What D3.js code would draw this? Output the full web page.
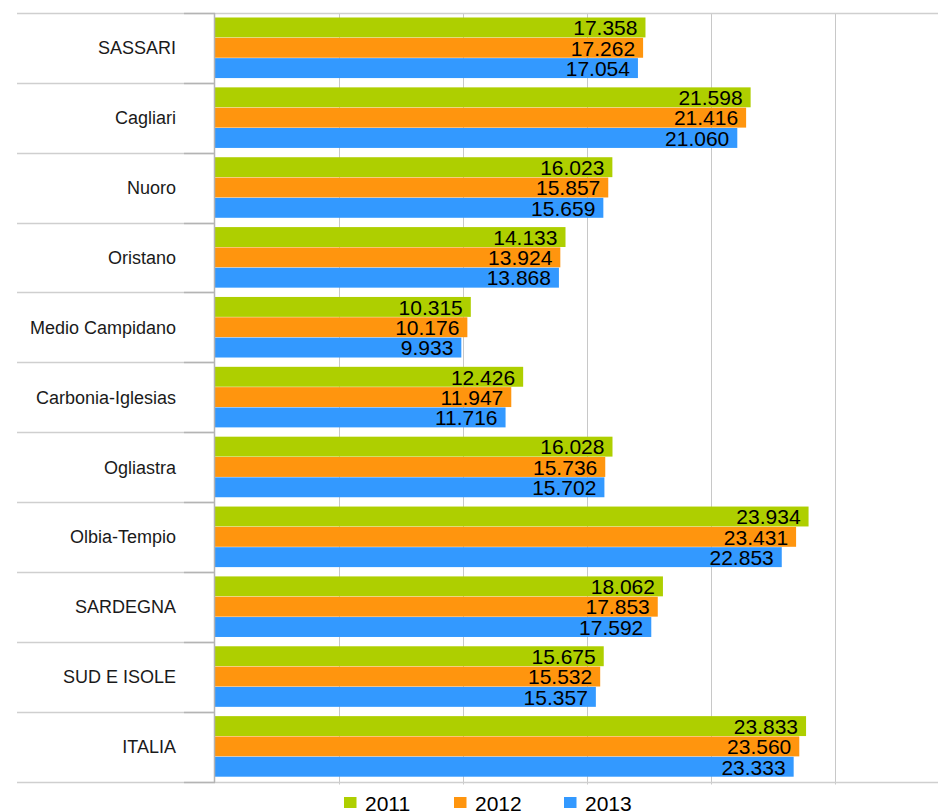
<!doctype html>
<html>
  <head>
    <meta charset="utf-8">
    <script src="https://cdn.jsdelivr.net/npm/d3@7"></script>
    <style>
    body {
      margin: 0;
      background: #fff;
    }

    .chart {
      font-family: 'Liberation Sans', Arial, sans-serif;
      display: block;
    }

    .cat-label {
      font-size: 18px;
      fill: #1a1a1a;
    }

    .bar-label {
      font-size: 21px;
      fill: #000;
    }

    .legend-label {
      font-size: 21px;
      fill: #000;
    }
    </style>
  </head>

  <body>

    <svg class="chart"></svg>

  <script>

    const categories = ["SASSARI", "Cagliari", "Nuoro", "Oristano", "Medio Campidano", "Carbonia-Iglesias",
                        "Ogliastra", "Olbia-Tempio", "SARDEGNA", "SUD E ISOLE", "ITALIA"]

    const years = ["2011", "2012", "2013"]

    const values2011 = [17358, 21598, 16023, 14133, 10315, 12426, 16028, 23934, 18062, 15675, 23833]
    const values2012 = [17262, 21416, 15857, 13924, 10176, 11947, 15736, 23431, 17853, 15532, 23560]
    const values2013 = [17054, 21060, 15659, 13868,  9933, 11716, 15702, 22853, 17592, 15357, 23333]

    const gridTicks = [5000, 10000, 15000, 20000, 25000, 30000]

    const colors = ["#aecf00", "#ff950e", "#3399ff"]

    const W = 938, H = 811
    const margin = { left: 215, top: 13, right: 0, bottom: 30 }
    const plotBottom = H - margin.bottom + 0.5   // ~781

    const series = [values2011, values2012, values2013]

    // rows built from the named arrays
    const rows = categories.map((c, i) => ({
      cat: c,
      vals: years.map((y, j) => ({ year: y, value: series[j][i] }))
    }))

    const it = d3.formatLocale({ decimal: ",", thousands: ".", grouping: [3], currency: ["€", ""] })
    const fmt = it.format(",d")

    const xScale = d3.scaleLinear()
                     .domain([0, 30000])
                     .range([margin.left, margin.left + 744])

    const yScale = d3.scaleBand()
                     .domain(categories)
                     .range([margin.top, plotBottom])
                     .padding(0)

    const inner = d3.scaleBand()
                    .domain(years)
                    .range([4.5, yScale.bandwidth() - 4.8])
                    .paddingInner(0.02)

    const cScale = d3.scaleOrdinal()
                     .domain(years)
                     .range(colors)

    let chart = d3.select(".chart")
                  .attr("width", W)
                  .attr("height", H)

    // vertical grid lines
    chart.append("g")
      .attr("class", "grid")
      .selectAll("line")
      .data(gridTicks)
      .enter().append("line")
        .attr("x1", d => Math.round(xScale(d)) + 0.5)
        .attr("x2", d => Math.round(xScale(d)) + 0.5)
        .attr("y1", margin.top)
        .attr("y2", plotBottom + 3)
        .attr("stroke", "#c8c8c8")
        .attr("stroke-width", 1)

    // category separators (top border runs across the whole width)
    const seps = categories.map(c => yScale(c)).concat([plotBottom])

    chart.append("g")
      .selectAll("line")
      .data(seps)
      .enter().append("line")
        .attr("x1", 17)
        .attr("x2", (d, i) => i === 0 ? W : margin.left)
        .attr("y1", d => Math.round(d) + 0.5)
        .attr("y2", d => Math.round(d) + 0.5)
        .attr("stroke", "#cfcfcf")
        .attr("stroke-width", 1.5)

    // y-axis ticks (darker stubs)
    chart.append("g")
      .selectAll("line")
      .data(seps)
      .enter().append("line")
        .attr("x1", 184)
        .attr("x2", margin.left)
        .attr("y1", d => Math.round(d) + 0.5)
        .attr("y2", d => Math.round(d) + 0.5)
        .attr("stroke", "#b4b4b4")
        .attr("stroke-width", 1.5)

    // bottom axis line
    chart.append("line")
      .attr("x1", margin.left)
      .attr("x2", W)
      .attr("y1", Math.round(plotBottom) + 0.5)
      .attr("y2", Math.round(plotBottom) + 0.5)
      .attr("stroke", "#cfcfcf")
      .attr("stroke-width", 1.5)

    // bars
    let groups = chart.selectAll(".group")
      .data(rows)
      .enter().append("g")
        .attr("class", "group")
        .attr("transform", d => "translate(0," + yScale(d.cat) + ")")

    groups.selectAll("rect")
      .data(d => d.vals)
      .enter().append("rect")
        .attr("x", xScale(0))
        .attr("y", d => inner(d.year))
        .attr("width", d => xScale(d.value) - xScale(0))
        .attr("height", inner.bandwidth())
        .attr("fill", d => cScale(d.year))

    groups.selectAll(".bar-label")
      .data(d => d.vals)
      .enter().append("text")
        .attr("class", "bar-label")
        .attr("x", d => xScale(d.value) - 8)
        .attr("y", d => inner(d.year) + inner.bandwidth() / 2 + 7.8)
        .attr("text-anchor", "end")
        .text(d => fmt(d.value))

    // y axis line
    chart.append("line")
      .attr("x1", margin.left - 0.5)
      .attr("x2", margin.left - 0.5)
      .attr("y1", margin.top)
      .attr("y2", plotBottom + 1)
      .attr("stroke", "#b4b4b4")
      .attr("stroke-width", 1.5)

    // category labels
    chart.append("g")
      .selectAll("text")
      .data(categories)
      .enter().append("text")
        .attr("class", "cat-label")
        .attr("x", 176)
        .attr("y", d => yScale(d) + yScale.bandwidth() / 2 + 6.5)
        .attr("text-anchor", "end")
        .text(d => d)

    // legend
    const legendX = [344, 454, 564]

    let legend = chart.append("g")
      .attr("id", "legend")

    legend.selectAll("rect")
      .data(years)
      .enter().append("rect")
        .attr("x", (d, i) => legendX[i])
        .attr("y", 797)
        .attr("width", 12.5)
        .attr("height", 11)
        .attr("fill", d => cScale(d))

    legend.selectAll("text")
      .data(years)
      .enter().append("text")
        .attr("class", "legend-label")
        .attr("x", (d, i) => legendX[i] + 21)
        .attr("y", 810.5)
        .text(d => d)

  </script>

  </body>
</html>
